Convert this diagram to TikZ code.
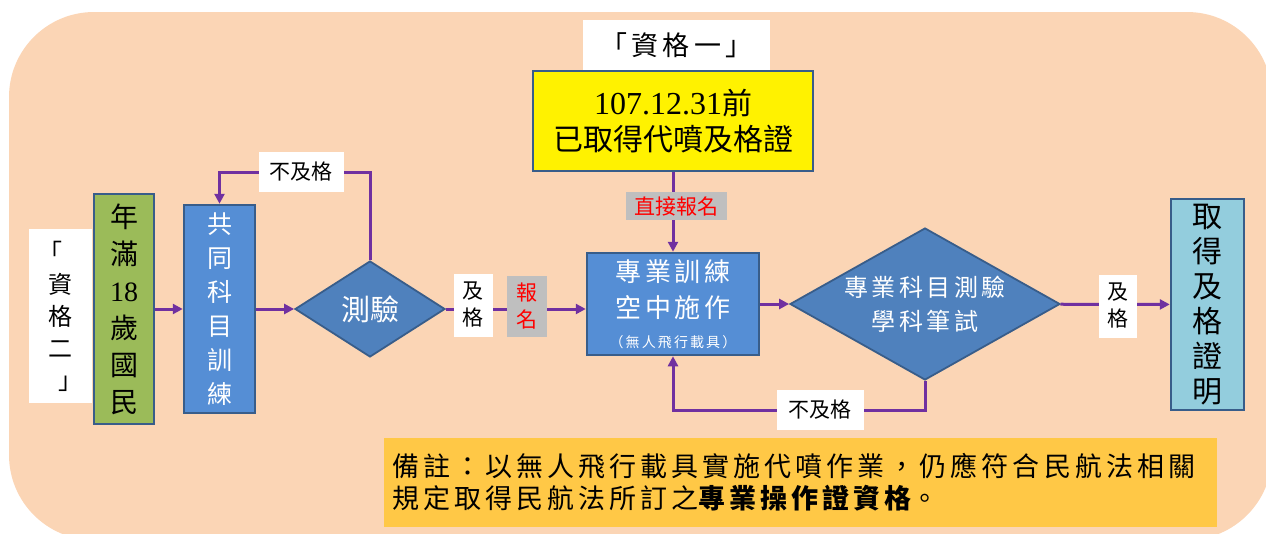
\documentclass[tikz,border=0pt]{standalone}
\usepackage{fontspec}
\usepackage{xcolor}
\usetikzlibrary{arrows.meta,shapes.geometric}
\setmainfont{Noto Sans CJK TC}
\newfontfamily\spaced[LetterSpace=15]{Noto Sans CJK TC}
\newfontfamily\lat{Liberation Serif}
\definecolor{peach}{HTML}{FBD5B5}
\definecolor{agec}{HTML}{9BBB59}
\definecolor{boxc}{HTML}{558ED5}
\definecolor{diamondc}{HTML}{4F81BD}
\definecolor{certc}{HTML}{93CDDD}
\definecolor{edge}{HTML}{385D8A}
\definecolor{purp}{HTML}{7030A0}
\definecolor{graylab}{HTML}{BFBFBF}
\definecolor{notec}{HTML}{FFC846}
\tikzset{
  box/.style={draw=edge, line width=2.5pt, inner sep=0pt, align=center},
  cond/.style={diamond, draw=edge, line width=1.8pt, fill=diamondc, inner sep=0pt, align=center, text=white},
  tag/.style={fill=white, inner sep=0pt, align=center, font=\fontsize{21}{27}\selectfont},
  flow/.style={purp, line width=3pt, ->},
}

\begin{document}
\begin{tikzpicture}[x=1pt,y=-1pt,>={Triangle[length=10pt,width=10pt]}]
\useasboundingbox (0,0) rectangle (1266,533);
\fill[peach, rounded corners=85pt] (9,12) rectangle (1272,540);

\node[fill=white, minimum width=63, minimum height=174, inner sep=0pt, align=center, font=\fontsize{24}{32}\selectfont] (q2) at (60.5,316) {\hspace*{-20pt}「\\資\\格\\二\\」\hspace*{-20pt}};
\node[box, fill=agec, minimum width=60, minimum height=230, font=\fontsize{28}{37}\selectfont] (age) at (124,309) {年\\滿\\{\lat 18}\\歲\\國\\民};
\node[box, fill=boxc, text=white, minimum width=71, minimum height=208, font=\fontsize{25}{34}\selectfont] (common) at (219.5,309) {共\\同\\科\\目\\訓\\練};
\node[cond, aspect=1.56, minimum width=150, minimum height=96, font=\fontsize{29}{34}\selectfont] (test) at (370,309) {測驗};

\node[fill=white, minimum width=187, minimum height=51, inner sep=0pt, font=\spaced\fontsize{27}{30}\selectfont] (q1) at (676.5,45.5) {「資格一」};
\node[box, fill=yellow, minimum width=280, minimum height=100, font=\fontsize{30}{36}\selectfont] (before) at (673,121) {{\lat\fontsize{32}{36}\selectfont 107.12.31}前\\已取得代噴及格證};
\node[box, fill=boxc, text=white, minimum width=172, minimum height=102, font=\spaced\fontsize{26}{36}\selectfont] (field) at (673,304) {專業訓練\\空中施作\\[-6pt]{\fontsize{14}{16}\selectfont （無人飛行載具）}};
\node[cond, aspect=1.78, minimum width=270, minimum height=152, font=\spaced\fontsize{24}{34}\selectfont] (exam) at (925,304) {專業科目測驗\\學科筆試};
\node[box, fill=certc, minimum width=73, minimum height=211, font=\fontsize{30}{35}\selectfont] (cert) at (1207.5,304.5) {取\\得\\及\\格\\證\\明};

\node[fill=notec, minimum height=89, text width=817pt, inner xsep=8pt, inner ysep=0pt, align=left, font=\spaced\fontsize{27}{32}\selectfont] (note) at (800.5,482.5) {備註：以無人飛行載具實施代噴作業，仍應符合民航法相關\\規定取得民航法所訂之{\bfseries 專業操作證資格}。};

\coordinate (back1) at (370,172);
\coordinate (back2) at (925,410);
\draw[flow] (age) -- (common);
\draw[flow] (common) -- (test);
\draw[flow] (test.north) -- (back1) -| (common.north);
\draw[flow] (test.east) -- (test.east -| field.west);
\draw[flow] (before) -- (field);
\draw[flow] (field) -- (exam);
\draw[flow] (exam) -- (cert);
\draw[flow] (exam.south) -- (back2) -| (field.south);

\node[tag, minimum width=85, minimum height=40] (fail1) at (301,172) {不及格};
\node[tag, minimum width=39, minimum height=63] (pass1) at (473,305) {及\\格};
\node[tag, fill=graylab, text=red, minimum width=40, minimum height=61] (apply) at (527,306) {報\\名};
\node[tag, fill=graylab, text=red, minimum width=101, minimum height=28] (direct) at (676,206) {直接報名};
\node[tag, minimum width=38, minimum height=63] (pass2) at (1118,306) {及\\格};
\node[tag, minimum width=87, minimum height=40] (fail2) at (820,410) {不及格};
\end{tikzpicture}
\end{document}
